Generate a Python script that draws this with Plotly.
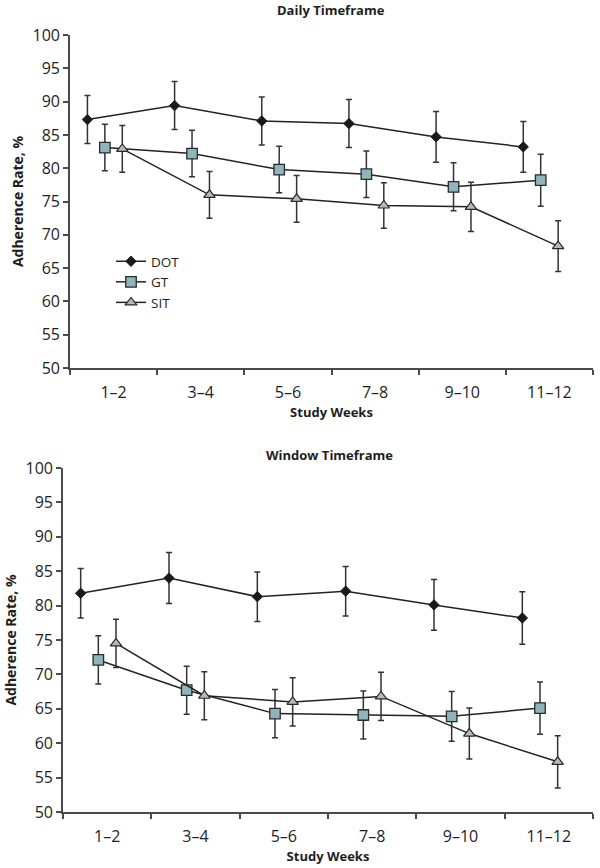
import plotly.graph_objects as go

weeks = ["1–2", "3–4", "5–6", "7–8", "9–10", "11–12"]
groups = ["DOT", "GT", "SIT"]

daily_dot = [87.3, 89.4, 87.1, 86.7, 84.7, 83.2]
daily_dot_err = [3.6, 3.6, 3.6, 3.6, 3.8, 3.8]
daily_gt = [83.1, 82.2, 79.8, 79.1, 77.2, 78.2]
daily_gt_err = [3.5, 3.5, 3.5, 3.5, 3.6, 3.9]
daily_sit = [82.9, 76.0, 75.4, 74.4, 74.2, 68.3]
daily_sit_err = [3.5, 3.5, 3.5, 3.4, 3.7, 3.8]

window_dot = [81.8, 84.0, 81.3, 82.1, 80.1, 78.2]
window_dot_err = [3.6, 3.7, 3.6, 3.6, 3.7, 3.8]
window_gt = [72.1, 67.7, 64.3, 64.1, 63.9, 65.1]
window_gt_err = [3.5, 3.5, 3.5, 3.5, 3.6, 3.8]
window_sit = [74.5, 66.9, 66.0, 66.8, 61.4, 57.3]
window_sit_err = [3.5, 3.5, 3.5, 3.5, 3.7, 3.8]

FONT = "Open Sans"
INK = "#1e1e1e"
AXC = "#4a4a4a"

W, H = 600, 868

def px(x):
    return x / W

def py(y):
    return 1 - y / H

styles = {
    "DOT": dict(symbol="diamond", size=8, color="#1a1a1a", line=dict(color="#1a1a1a", width=1), offset=-0.3),
    "GT": dict(symbol="square", size=10.5, color="#8db5bb", line=dict(color="#2a2a2a", width=1.3), offset=-0.1),
    "SIT": dict(symbol="triangle-up", size=10, color="#b9b9b9", line=dict(color="#2a2a2a", width=1.2), offset=0.1),
}

fig = go.Figure()

def add(series, errs, name, xa, ya, show):
    st = styles[name]
    fig.add_trace(go.Scatter(
        x=[i + st["offset"] for i in range(len(weeks))],
        y=series,
        mode="lines+markers",
        name=name,
        showlegend=show,
        xaxis=xa, yaxis=ya,
        line=dict(color="#222222", width=1.5),
        marker=dict(symbol=st["symbol"], size=st["size"], color=st["color"], line=st["line"]),
        error_y=dict(type="data", array=errs, visible=True, color="#333333", thickness=1.5, width=3),
    ))

add(daily_dot, daily_dot_err, "DOT", "x", "y", True)
add(daily_gt, daily_gt_err, "GT", "x", "y", True)
add(daily_sit, daily_sit_err, "SIT", "x", "y", True)
add(window_dot, window_dot_err, "DOT", "x2", "y2", False)
add(window_gt, window_gt_err, "GT", "x2", "y2", False)
add(window_sit, window_sit_err, "SIT", "x2", "y2", False)

def xaxis(domain, anchor):
    return dict(
        domain=domain, anchor=anchor, range=[-0.5, 5.5], automargin=False,
        tickmode="array", tickvals=list(range(len(weeks))), ticktext=weeks,
        ticks="outside", ticklen=9, tickcolor="rgba(0,0,0,0)",
        tickfont=dict(family=FONT, size=16, color=INK),
        showline=True, linecolor=AXC, linewidth=1.6,
        showgrid=False, zeroline=False,
        minor=dict(tick0=-0.5, dtick=1, ticks="outside", ticklen=5, tickcolor=AXC, tickwidth=1.5, showgrid=False),
        title=dict(text="<b>Study Weeks</b>", font=dict(family=FONT, size=13, color=INK), standoff=5),
        fixedrange=True,
    )

def yaxis(domain, anchor):
    return dict(
        domain=domain, anchor=anchor, range=[50, 100], automargin=False,
        tickmode="linear", tick0=50, dtick=5,
        ticks="outside", ticklen=5, tickcolor=AXC, tickwidth=1.5,
        tickfont=dict(family=FONT, size=16, color=INK),
        showline=True, linecolor=AXC, linewidth=1.6,
        showgrid=False, zeroline=False,
        title=dict(text="<b>Adherence Rate, %</b>", font=dict(family=FONT, size=14, color=INK), standoff=6),
        fixedrange=True,
    )

fig.update_layout(
    width=W, height=H,
    margin=dict(l=0, r=0, t=0, b=0, autoexpand=False),
    paper_bgcolor="white", plot_bgcolor="white",
    xaxis=xaxis([px(70), px(593)], "y"),
    yaxis=yaxis([py(368), py(35)], "x"),
    xaxis2=xaxis([px(63), px(593)], "y2"),
    yaxis2=yaxis([py(812), py(468)], "x2"),
    legend=dict(
        x=px(111), y=py(246), xanchor="left", yanchor="top",
        font=dict(family=FONT, size=13.5, color=INK),
        bgcolor="rgba(0,0,0,0)", tracegroupgap=0, itemwidth=30,
    ),
    showlegend=True,
    annotations=[
        dict(text="<b>Daily Timeframe</b>", x=px(331), y=py(10), xref="paper", yref="paper",
             showarrow=False, xanchor="center", yanchor="middle",
             font=dict(family=FONT, size=13, color=INK)),
        dict(text="<b>Window Timeframe</b>", x=px(329), y=py(455), xref="paper", yref="paper",
             showarrow=False, xanchor="center", yanchor="middle",
             font=dict(family=FONT, size=13, color=INK)),
    ],
)

fig.write_html("out.html", config={"displayModeBar": False},
               post_script="document.body.style.margin='0';")
